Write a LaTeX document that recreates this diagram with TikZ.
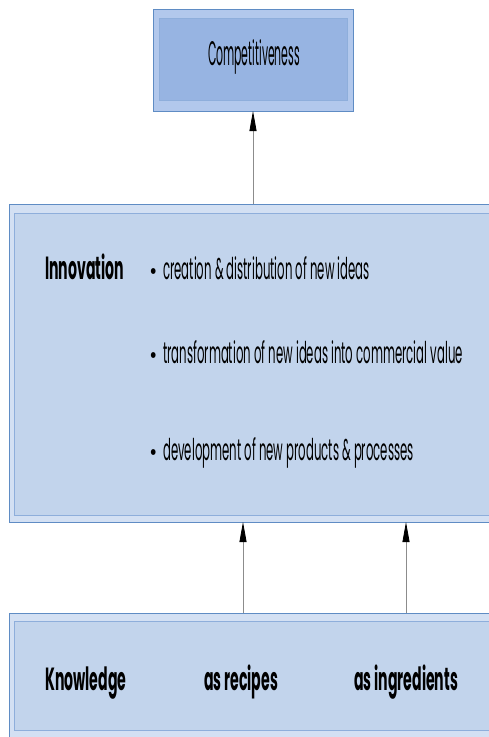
\documentclass[tikz,border=0pt]{standalone}
\usepackage{fontspec}
\newfontfamily\condreg{Poppins}[FakeStretch=0.39]
\newfontfamily\condbold{Poppins}[FakeStretch=0.44]
\newfontfamily\condtitle{Poppins}[FakeStretch=0.32]
\newfontfamily\bulfont{Poppins}[FakeStretch=0.8]
\usetikzlibrary{arrows.meta}
\definecolor{edgeblue}{HTML}{5F8CC4}
\definecolor{innerline}{HTML}{8EAEDB}
\definecolor{midouter}{HTML}{D3E0F3}
\definecolor{midinner}{HTML}{C2D4EC}
\definecolor{topouter}{HTML}{B2C8EC}
\definecolor{topinner}{HTML}{97B4E2}
\tikzset{
  outerbox/.style={draw=edgeblue, line width=1pt},
  innerbox/.style={draw=innerline, line width=0.8pt},
  txt/.style={inner sep=0pt, anchor=base west, font=\condreg\fontsize{30}{34}\selectfont},
  boldtxt/.style={inner sep=0pt, anchor=base west, font=\condbold\bfseries\fontsize{32}{36}\selectfont},
  uparrow/.style={draw=black!45, line width=0.8pt, -{Triangle[length=20pt,width=7pt,color=black]}}
}
\newcommand{\bul}{\llap{{\bulfont\fontsize{24}{24}\selectfont•}\hspace{6pt}}}
\begin{document}
\begin{tikzpicture}[x=1pt,y=-1pt]
\useasboundingbox (0,0) rectangle (489,737);
\clip (0,0) rectangle (489,737);
% top box
\path[fill=topouter, outerbox] (153,9) rectangle (353,111);
\path[fill=topinner, innerbox] (159,18) rectangle (347,100);
\node[inner sep=0pt, anchor=base, font=\condtitle\fontsize{34}{38}\selectfont] (comp) at (254,65) {Competitiveness};
\coordinate (topb) at (253,111);
% middle box
\path[fill=midouter, outerbox] (9,204) rectangle (495,522);
\path[fill=midinner, innerbox] (14,213) rectangle (495,515);
\coordinate (midt) at (253,204);
\coordinate (midb1) at (243,522);
\coordinate (midb2) at (406,522);
\node[boldtxt] (innov) at (45,279) {Innovation};
\node[txt] (b1) at (163,279) {\bul creation \& distribution of new ideas};
\node[txt] (b2) at (163,363) {\bul transformation of new ideas into commercial value};
\node[txt] (b3) at (163,460) {\bul development of new products \& processes};
% bottom box
\path[fill=midouter, outerbox] (9,613) rectangle (495,745);
\path[fill=midinner, innerbox] (14,621) rectangle (495,730);
\coordinate (bott1) at (243,613);
\coordinate (bott2) at (406,613);
\node[boldtxt] (know) at (45,690) {Knowledge};
\node[boldtxt] (recipes) at (204,690) {as recipes};
\node[boldtxt] (ingred) at (354,690) {as ingredients};
% arrows
\draw[uparrow] (midt) -- (topb);
\draw[uparrow] (bott1) -- (midb1);
\draw[uparrow] (bott2) -- (midb2);
\end{tikzpicture}
\end{document}
